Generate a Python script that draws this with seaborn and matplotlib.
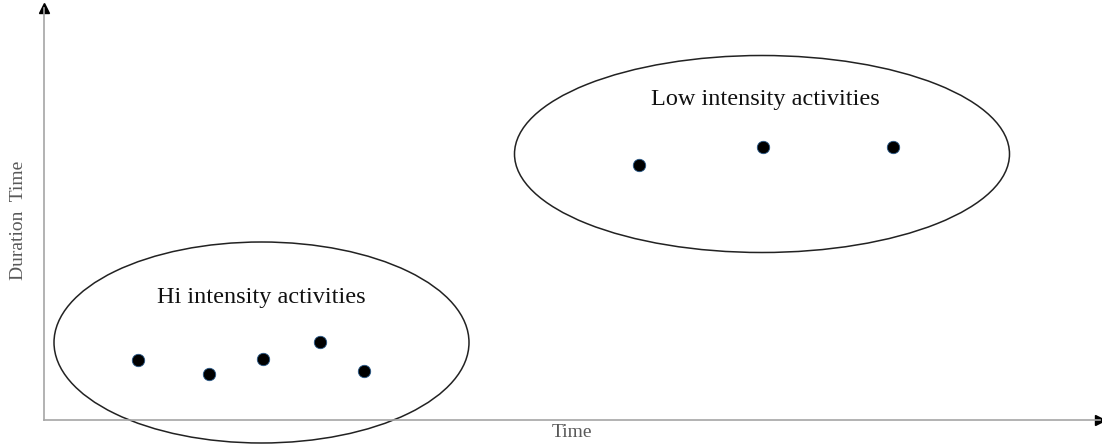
import matplotlib.pyplot as plt
import pandas as pd
import seaborn as sns
from matplotlib.patches import Ellipse

# point data (arbitrary units, axis origin at 0,0)
hi_time = [94, 165, 219, 276, 320]
hi_duration = [60, 46, 61, 78, 49]
low_time = [595, 719, 849]
low_duration = [255, 273, 273]

group_names = ['Hi intensity activities', 'Low intensity activities']

df = pd.DataFrame({
    'Time': hi_time + low_time,
    'Duration': hi_duration + low_duration,
    'Group': [group_names[0]] * len(hi_time) + [group_names[1]] * len(low_time),
})

sns.set_style('white')
plt.rcParams['font.family'] = ['Liberation Serif', 'DejaVu Serif']

fig = plt.figure(figsize=(11.02, 4.46), dpi=100)
ax = fig.add_axes([44 / 1102, 26 / 446, 1056 / 1102, 412 / 446])

sns.scatterplot(data=df, x='Time', y='Duration', color='black', s=80,
                edgecolor='#2a5a8a', linewidth=0.6, legend=False, ax=ax, zorder=3)

ax.set_xlim(0, 1056)
ax.set_ylim(0, 412)

# group outlines
ax.add_patch(Ellipse((217.5, 77.5), 415, 201, fill=False, edgecolor='#222222',
                     linewidth=1.1, clip_on=False))
ax.add_patch(Ellipse((718, 266), 495, 197, fill=False, edgecolor='#222222',
                     linewidth=1.1, clip_on=False))
ax.text(217, 122, group_names[0], ha='center', va='center', fontsize=17.5, color='#111111')
ax.text(721, 321, group_names[1], ha='center', va='center', fontsize=17.5, color='#111111')

# axes with arrows
for side in ['top', 'right']:
    ax.spines[side].set_visible(False)
for side in ['left', 'bottom']:
    ax.spines[side].set_color('#a6a6a6')
    ax.spines[side].set_linewidth(1.2)
ax.plot(0, 1, '^', color='black', markersize=7, transform=ax.transAxes, clip_on=False)
ax.plot(1, 0, '>', color='black', markersize=7, transform=ax.transAxes, clip_on=False)

ax.set_xticks([])
ax.set_yticks([])
ax.set_xlabel('Time', fontsize=14, color='#595959', labelpad=3)
ax.set_ylabel('Duration  Time', fontsize=14, color='#595959')
ax.yaxis.set_label_coords(-0.016, 0.485)

fig.savefig('out.png', dpi=100)
